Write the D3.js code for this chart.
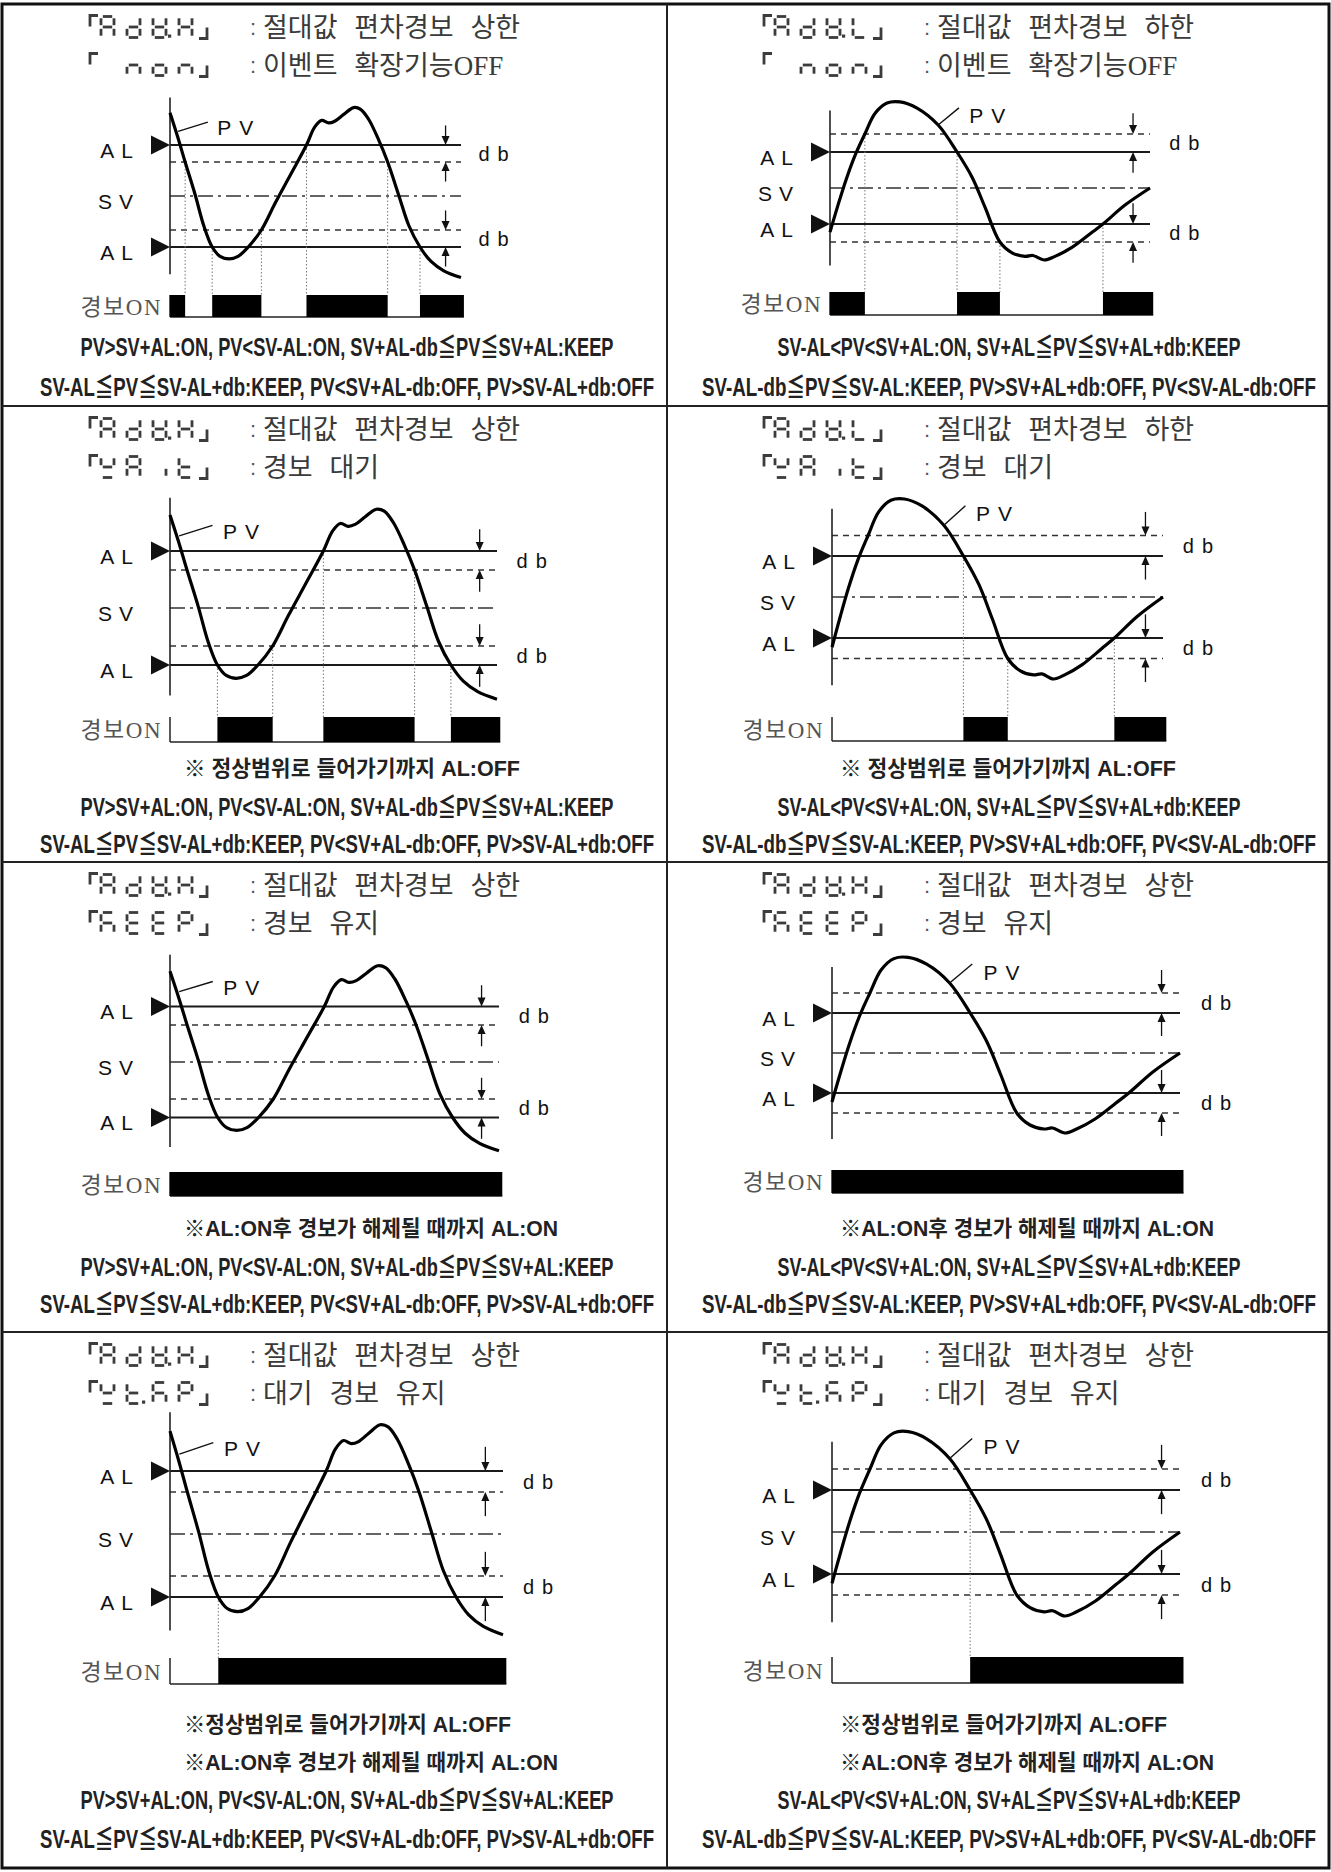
<!DOCTYPE html>
<html>
<head>
<meta charset="utf-8">
<script src="https://cdn.jsdelivr.net/npm/d3@7"></script>
<style>
  body { margin: 0; background: #fff; }
</style>
</head>
<body>
<svg id="chart"></svg>
<script>
const width = 1331, height = 1872;

// ---------- data ----------
// PV curve, upper-limit panels (time 0..100, PV in units of db around SV=0)
const pvUpper = [[0,4.9],[2.6,3.5],[5.2,2.0],[8.6,0.1],[11.7,-1.8],[14.5,-3.0],[17.2,-3.55],[20.3,-3.7],
  [23.4,-3.55],[26.9,-3.0],[31.4,-2.0],[36.2,-0.4],[41.4,1.25],[46.9,3.0],[49.7,4.05],[52.1,4.45],
  [54.5,4.3],[56.6,4.4],[59.7,4.8],[63.1,5.2],[65.5,5.1],[68.3,4.5],[71.7,3.3],[74.8,2.0],[78.6,0.05],
  [82.1,-1.75],[85.9,-3.0],[89.7,-3.85],[94.1,-4.4],[100,-4.8]];
// PV curve, lower-limit panels
const pvLower = [[0,-2.45],[2.5,-0.95],[5,0.45],[7.8,1.8],[10.9,3.0],[14.1,4.15],[17.8,4.72],[21.9,4.78],
  [27.2,4.44],[33.8,3.5],[39.7,2.0],[44.4,0.6],[48.4,-1.05],[53.1,-3.0],[56.9,-3.6],[60.9,-3.8],
  [63.4,-3.75],[66.9,-4.0],[70.3,-3.8],[75.6,-3.3],[81.6,-2.5],[85.3,-2.0],[92.2,-0.95],[100,0]];

const setUpper = {AL: 3, db: 1};   // db inside the AL band
const setLower = {AL: 2, db: 1};   // db outside the AL band

const codeLine1 = ["AdV.H","AdV.L","AdV.H","AdV.L","AdV.H","AdV.H","AdV.H","AdV.H"];
const codeLine2 = [" non"," non","WAit","WAit","KEEP","KEEP","Wt.KP","Wt.KP"];
const titleLine1 = ["절대값 편차경보 상한","절대값 편차경보 하한","절대값 편차경보 상한","절대값 편차경보 하한",
  "절대값 편차경보 상한","절대값 편차경보 상한","절대값 편차경보 상한","절대값 편차경보 상한"];
const titleLine2 = ["이벤트 확장기능OFF","이벤트 확장기능OFF","경보 대기","경보 대기",
  "경보 유지","경보 유지","대기 경보 유지","대기 경보 유지"];

// alarm ON intervals (time)
const alarmOn = [
  [[0,5.2],[14.5,31.4],[46.9,74.8],[85.9,101]],
  [[0,10.9],[39.7,53.1],[85.3,101]],
  [[14.5,31.4],[46.9,74.8],[85.9,101]],
  [[39.7,53.1],[85.3,101]],
  [[0,101]],
  [[0,101]],
  [[14.5,101]],
  [[39.7,101]]
];
// dotted switching guides [time, level]
const guides = [
  [[5.2,2],[14.5,-3],[31.4,-2],[46.9,3],[74.8,2],[85.9,-3]],
  [[10.9,3],[39.7,2],[53.1,-3],[85.3,-2]],
  [[14.5,-3],[31.4,-2],[46.9,3],[74.8,2],[85.9,-3]],
  [[39.7,2],[53.1,-3],[85.3,-2]],
  [], [],
  [[14.5,-3]],
  [[39.7,2]]
];

const noteWait = "※ 정상범위로 들어가기까지 AL:OFF";
const noteWait2 = "※정상범위로 들어가기까지 AL:OFF";
const noteKeep = "※AL:ON후 경보가 해제될 때까지 AL:ON";
const notes = [[],[],[noteWait],[noteWait],[noteKeep],[noteKeep],[noteWait2,noteKeep],[noteWait2,noteKeep]];
const rulesUpper = ["PV>SV+AL:ON, PV<SV-AL:ON, SV+AL-db≦PV≦SV+AL:KEEP",
  "SV-AL≦PV≦SV-AL+db:KEEP, PV<SV+AL-db:OFF, PV>SV-AL+db:OFF"];
const rulesLower = ["SV-AL<PV<SV+AL:ON, SV+AL≦PV≦SV+AL+db:KEEP",
  "SV-AL-db≦PV≦SV-AL:KEEP, PV>SV+AL+db:OFF, PV<SV-AL-db:OFF"];

// ---------- layout ----------
const rowTops = [4, 406, 862, 1332];
const gridBottom = 1868;
const colX = [2, 667, 1329];
const frames = [
  {ax:170, xEnd:461, sv:196, ppu:17, barTop:295, barBot:317},
  {ax:830, xEnd:1150, sv:188, ppu:18, barTop:292, barBot:315},
  {ax:170, xEnd:497, sv:608, ppu:19, barTop:717, barBot:742},
  {ax:832, xEnd:1163, sv:597, ppu:20.5, barTop:717, barBot:741},
  {ax:170, xEnd:499, sv:1062, ppu:18.5, barTop:1172, barBot:1196},
  {ax:832, xEnd:1180, sv:1053, ppu:20, barTop:1170, barBot:1193},
  {ax:170, xEnd:503, sv:1534, ppu:21, barTop:1658, barBot:1684},
  {ax:832, xEnd:1180, sv:1532, ppu:21, barTop:1657, barBot:1683}
];
const textRows = [[348,388],[768,808,845],[1228,1268,1305],[1724,1762,1801,1840]];
const titleX = [90, 764];
const ruleCenter = [347, 1009];
const noteX = [184, 840];

const latin = "'Liberation Sans', Arial, sans-serif";
const serifKor = "'Liberation Serif', 'Noto Sans CJK KR', serif";
const narrow = "'Liberation Sans Narrow', 'Liberation Sans', 'Noto Sans CJK KR', sans-serif";

const svg = d3.select("#chart")
  .attr("width", width).attr("height", height)
  .attr("viewBox", [0, 0, width, height]);
svg.append("rect").attr("width", width).attr("height", height).attr("fill", "#fff");

// ---------- table grid ----------
svg.append("rect")
  .attr("x", colX[0]).attr("y", rowTops[0])
  .attr("width", colX[2] - colX[0]).attr("height", gridBottom - rowTops[0])
  .attr("fill", "none").attr("stroke", "#111").attr("stroke-width", 3);
rowTops.slice(1).forEach(y => {
  svg.append("line").attr("x1", colX[0]).attr("x2", colX[2]).attr("y1", y).attr("y2", y)
    .attr("stroke", "#222").attr("stroke-width", 2);
});
svg.append("line").attr("x1", colX[1]).attr("x2", colX[1]).attr("y1", rowTops[0]).attr("y2", gridBottom)
  .attr("stroke", "#222").attr("stroke-width", 2);

// ---------- seven segment codes ----------
const segMap = {A:"abcefg", d:"bcdeg", V:"bcdefg", H:"bcefg", L:"def", n:"ceg", o:"cdeg",
  W:"bdfg", i:"c", t:"defg", K:"acefg", E:"adefg", P:"abefg"};

function drawCode(g, str, x0, cy) {
  const w = 13, h = 21, pitch = 26, gap = 1.8, top = cy - h / 2;
  const col = "#3c3c3c", sw = 2.8;
  const seg = {
    a: [[gap,0],[w-gap,0]], b: [[w,gap],[w,h/2-gap]], c: [[w,h/2+gap],[w,h-gap]],
    d: [[gap,h],[w-gap,h]], e: [[0,h/2+gap],[0,h-gap]], f: [[0,gap],[0,h/2-gap]],
    g: [[gap,h/2],[w-gap,h/2]]
  };
  g.append("path").attr("d", `M${x0},${top+10}V${top-1}H${x0+8}`)
    .attr("fill", "none").attr("stroke", col).attr("stroke-width", sw);
  let slot = -1;
  const xs = k => x0 + 11 + k * pitch;
  for (const ch of str) {
    if (ch === ".") {
      g.append("rect").attr("x", xs(slot) + w + 2).attr("y", top + h - 3)
        .attr("width", 3.2).attr("height", 3.2).attr("fill", col);
      continue;
    }
    slot++;
    if (ch === " ") continue;
    const sx = xs(slot);
    for (const s of segMap[ch]) {
      const p = seg[s];
      g.append("line")
        .attr("x1", sx + p[0][0]).attr("y1", top + p[0][1])
        .attr("x2", sx + p[1][0]).attr("y2", top + p[1][1])
        .attr("stroke", col).attr("stroke-width", sw);
    }
  }
  const cx = xs(4) - 6;
  g.append("path").attr("d", `M${cx},${top+h+1}H${cx+8}V${top+h-10}`)
    .attr("fill", "none").attr("stroke", col).attr("stroke-width", sw);
}

// text squeezed to a width and stretched a little upward, like the condensed gothic of the source
function condensed(g, str, x0, y0, w, size, sy, weight) {
  g.append("text")
    .attr("transform", `translate(${x0},${y0}) scale(1,${sy})`)
    .attr("dominant-baseline", "central")
    .attr("font-family", narrow).attr("font-size", size).attr("font-weight", weight)
    .attr("fill", "#222")
    .attr("textLength", w).attr("lengthAdjust", "spacingAndGlyphs")
    .text(str);
}

// ---------- panels ----------
frames.forEach((f, i) => {
  const col = i % 2, row = Math.floor(i / 2);
  const upper = col === 0;
  const set = upper ? setUpper : setLower;
  const pv = upper ? pvUpper : pvLower;
  const g = svg.append("g");

  const x = d3.scaleLinear().domain([0, 100]).range([f.ax, f.xEnd]);
  const y = d3.scaleLinear().domain([0, 1]).range([f.sv, f.sv - f.ppu]);

  // titles
  const tx = titleX[col];
  [[codeLine1[i], titleLine1[i]], [codeLine2[i], titleLine2[i]]].forEach((t, k) => {
    const cy = rowTops[row] + 23 + k * 38;
    drawCode(g, t[0], tx, cy);
    g.append("text").attr("x", tx + 160).attr("y", cy).attr("dominant-baseline", "central")
      .attr("font-family", latin).attr("font-size", 22).attr("fill", "#555").text(":");
    g.append("text").attr("x", tx + 173).attr("y", cy + 1).attr("dominant-baseline", "central")
      .attr("font-family", serifKor)
      .attr("font-size", 27).attr("word-spacing", 10).attr("fill", "#3a3a3a")
      .text(t[1]);
  });

  // level lines
  const inner = upper ? set.AL - set.db : set.AL + set.db;
  const levels = [
    {v: set.AL, kind: "solid"}, {v: inner, kind: "dash"}, {v: 0, kind: "dashdot"},
    {v: -inner, kind: "dash"}, {v: -set.AL, kind: "solid"}
  ];
  const dashes = {solid: null, dash: "6,5", dashdot: "15,5,3,5"};
  levels.forEach(l => {
    g.append("line")
      .attr("x1", x(0)).attr("x2", x(100)).attr("y1", y(l.v)).attr("y2", y(l.v))
      .attr("stroke", l.kind === "solid" ? "#1a1a1a" : "#333")
      .attr("stroke-width", l.kind === "solid" ? 1.8 : 1.6)
      .attr("stroke-dasharray", dashes[l.kind]);
  });

  // dotted switching guides
  guides[i].forEach(d => {
    g.append("line")
      .attr("x1", x(d[0])).attr("x2", x(d[0]))
      .attr("y1", y(d[1])).attr("y2", f.barTop)
      .attr("stroke", "#777").attr("stroke-width", 1)
      .attr("stroke-dasharray", "1.5,2");
  });

  // vertical axis
  g.append("line").attr("x1", x(0)).attr("x2", x(0))
    .attr("y1", y(upper ? 5.8 : 4.3)).attr("y2", y(upper ? -4.6 : -4.3))
    .attr("stroke", "#222").attr("stroke-width", 1.6);

  // AL markers + labels
  [set.AL, -set.AL].forEach(v => {
    const yy = y(v);
    g.append("path")
      .attr("d", `M${x(0)},${yy}L${x(0) - 19},${yy - 9.5}L${x(0) - 19},${yy + 9.5}Z`)
      .attr("fill", "#111");
    g.append("text").attr("x", x(0) - 30).attr("y", yy + 5)
      .attr("text-anchor", "end").attr("dominant-baseline", "central")
      .attr("font-family", latin).attr("font-size", 21).attr("letter-spacing", 7)
      .attr("fill", "#111").text("AL");
  });
  g.append("text").attr("x", x(0) - 30).attr("y", y(0) + 5)
    .attr("text-anchor", "end").attr("dominant-baseline", "central")
    .attr("font-family", latin).attr("font-size", 21).attr("letter-spacing", 7)
    .attr("fill", "#111").text("SV");

  // db arrows
  const arrowT = 94.7;
  [[set.AL, inner], [-inner, -set.AL]].map(p => p.slice().sort((a, b) => b - a)).forEach(p => {
    const ax = x(arrowT);
    const hi = y(p[0]), lo = y(p[1]);
    const len = 1.15 * f.ppu;
    g.append("line").attr("x1", ax).attr("x2", ax).attr("y1", hi - len).attr("y2", hi - 6)
      .attr("stroke", "#111").attr("stroke-width", 1.3);
    g.append("path").attr("d", `M${ax},${hi}L${ax - 4},${hi - 9}L${ax + 4},${hi - 9}Z`).attr("fill", "#111");
    g.append("line").attr("x1", ax).attr("x2", ax).attr("y1", lo + len).attr("y2", lo + 6)
      .attr("stroke", "#111").attr("stroke-width", 1.3);
    g.append("path").attr("d", `M${ax},${lo}L${ax - 4},${lo + 9}L${ax + 4},${lo + 9}Z`).attr("fill", "#111");
    g.append("text").attr("x", x(106)).attr("y", (hi + lo) / 2)
      .attr("dominant-baseline", "central")
      .attr("font-family", latin).attr("font-size", 20).attr("letter-spacing", 8)
      .attr("fill", "#111").text("db");
  });

  // PV curve
  const line = d3.line().x(d => x(d[0])).y(d => y(d[1])).curve(d3.curveCatmullRom.alpha(0.5));
  g.append("path").datum(pv).attr("d", line)
    .attr("fill", "none").attr("stroke", "#000").attr("stroke-width", 3.2)
    .attr("stroke-linejoin", "round");

  // PV label and leader
  const lead = upper ? [[2.8, 3.8], [13, 4.35]] : [[33.8, 3.5], [40.3, 4.45]];
  g.append("line")
    .attr("x1", x(lead[0][0])).attr("y1", y(lead[0][1]))
    .attr("x2", x(lead[1][0])).attr("y2", y(lead[1][1]))
    .attr("stroke", "#111").attr("stroke-width", 1.4);
  g.append("text").attr("x", x(lead[1][0] + 3.2)).attr("y", y(4.05))
    .attr("dominant-baseline", "central")
    .attr("font-family", latin).attr("font-size", 21).attr("letter-spacing", 8)
    .attr("fill", "#111").text("PV");

  // alarm output row
  g.append("line").attr("x1", x(0)).attr("x2", x(101)).attr("y1", f.barBot).attr("y2", f.barBot)
    .attr("stroke", "#222").attr("stroke-width", 1.5);
  g.append("line").attr("x1", x(0)).attr("x2", x(0)).attr("y1", f.barTop).attr("y2", f.barBot)
    .attr("stroke", "#222").attr("stroke-width", 1.5);
  g.selectAll("rect.on").data(alarmOn[i]).join("rect")
    .attr("x", d => x(d[0])).attr("width", d => x(d[1]) - x(d[0]))
    .attr("y", f.barTop).attr("height", f.barBot - f.barTop)
    .attr("fill", "#000");
  g.append("text").attr("x", x(0) - 8).attr("y", (f.barTop + f.barBot) / 2 + 1)
    .attr("text-anchor", "end").attr("dominant-baseline", "central")
    .attr("font-family", serifKor).attr("letter-spacing", 1.5)
    .attr("font-size", 23).attr("fill", "#555").text("경보ON");

  // notes and rules
  const rules = upper ? rulesUpper : rulesLower;
  const ruleW = upper ? [533, 614] : [463, 614];
  const ys = textRows[row];
  notes[i].forEach((n, k) => {
    const w = n.startsWith("※AL") ? 374 : (n.startsWith("※ ") ? 336 : 327);
    condensed(g, n, noteX[col], ys[k], w, 18, 1.2, 700);
  });
  rules.forEach((r, k) => {
    const yy = ys[notes[i].length + k];
    condensed(g, r, ruleCenter[col] - ruleW[k] / 2, yy, ruleW[k], 19, 1.32, 700);
  });
});
</script>
</body>
</html>
